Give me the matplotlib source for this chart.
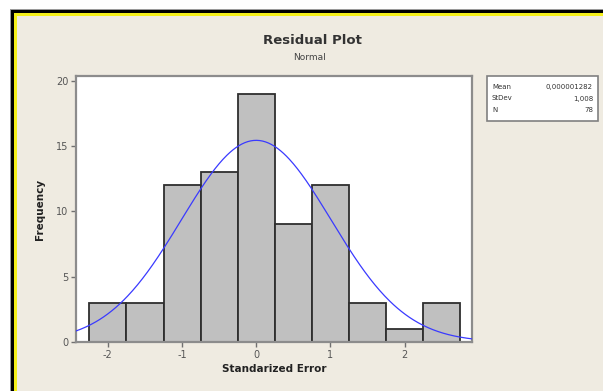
import numpy as np
import matplotlib
matplotlib.use("Agg")
import matplotlib.pyplot as plt
from matplotlib.patches import Rectangle

# Histogram of standardized residuals
bin_centers = [-2.0, -1.5, -1.0, -0.5, 0.0, 0.5, 1.0, 1.5, 2.0, 2.5]
counts = [3, 3, 12, 13, 19, 9, 12, 3, 1, 3]
bin_width = 0.5

# Fitted normal summary
mean_val = 0.000001282
stdev_val = 1.008
n_obs = 78
stats_labels = ["Mean", "StDev", "N"]
stats_texts = ["0,000001282", "1,008", "78"]

x_ticks = [-2, -1, 0, 1, 2]
y_ticks = [0, 5, 10, 15, 20]

W, H = 603, 391
fig = plt.figure(figsize=(W / 100, H / 100), dpi=100)
fig.patch.set_facecolor("white")


def px_rect(x0, y0, x1, y1, **kw):
    """Rectangle given in pixel coordinates measured from the top-left corner."""
    return Rectangle((x0 / W, (H - y1) / H), (x1 - x0) / W, (y1 - y0) / H,
                     transform=fig.transFigure, **kw)


# Window frame: thin gray line, black band, yellow band, beige panel
fig.add_artist(px_rect(10, 9, 800, 600, facecolor="#9a9a9a", edgecolor="none", zorder=-10))
fig.add_artist(px_rect(11, 10, 800, 600, facecolor="#000000", edgecolor="none", zorder=-9))
fig.add_artist(px_rect(14, 13, 800, 600, facecolor="#f5f01a", edgecolor="none", zorder=-8))
fig.add_artist(px_rect(17, 16, 800, 600, facecolor="#efebe1", edgecolor="none", zorder=-7))

ax = fig.add_axes([76 / W, (H - 342) / H, (472 - 76) / W, (342 - 76) / H])
ax.set_facecolor("white")

ax.bar(bin_centers, counts, width=bin_width, align="center",
       facecolor="#c0c0c0", edgecolor="#2e2e2e", linewidth=1.3, zorder=2)

xs = np.linspace(-2.43, 2.91, 400)
scale = n_obs * bin_width / (stdev_val * np.sqrt(2 * np.pi))
ys = scale * np.exp(-0.5 * ((xs - mean_val) / stdev_val) ** 2)
ax.plot(xs, ys, color="#3a3aff", linewidth=0.9, zorder=3)

ax.set_xlim(-2.43, 2.91)
ax.set_ylim(0, 20.36)
ax.set_xticks(x_ticks)
ax.set_yticks(y_ticks)
ax.set_xticklabels([f"{t}" for t in x_ticks])
ax.tick_params(axis="both", direction="out", length=3.5, width=1.0,
               color="#707070", labelcolor="#555555", labelsize=7, pad=2)

for s in ax.spines.values():
    s.set_color("#8c8c8c")
    s.set_linewidth(1.6)

ax.set_xlabel("Standarized Error", fontsize=7.5, fontweight="bold",
              color="#222222", labelpad=3)
ax.set_ylabel("Frequency", fontsize=7.5, fontweight="bold",
              color="#222222", labelpad=8)

fig.text(312 / W, (H - 41) / H, "Residual Plot", ha="center", va="center",
         fontsize=9.5, fontweight="bold", color="#333333")
fig.text(309 / W, (H - 57) / H, "Normal", ha="center", va="center",
         fontsize=6.5, color="#444444")

# Summary statistics box
fig.add_artist(px_rect(487, 76, 598, 121, facecolor="white",
                       edgecolor="#808080", linewidth=1.2, zorder=5))
for i, (lab, val) in enumerate(zip(stats_labels, stats_texts)):
    yy = (H - (87 + 11.5 * i)) / H
    fig.text(492 / W, yy, lab, ha="left", va="center", fontsize=5,
             color="#333333", zorder=6)
    fig.text(593 / W, yy, val, ha="right", va="center", fontsize=5,
             color="#333333", zorder=6)

fig.savefig("out.png", dpi=100, facecolor=fig.get_facecolor())
